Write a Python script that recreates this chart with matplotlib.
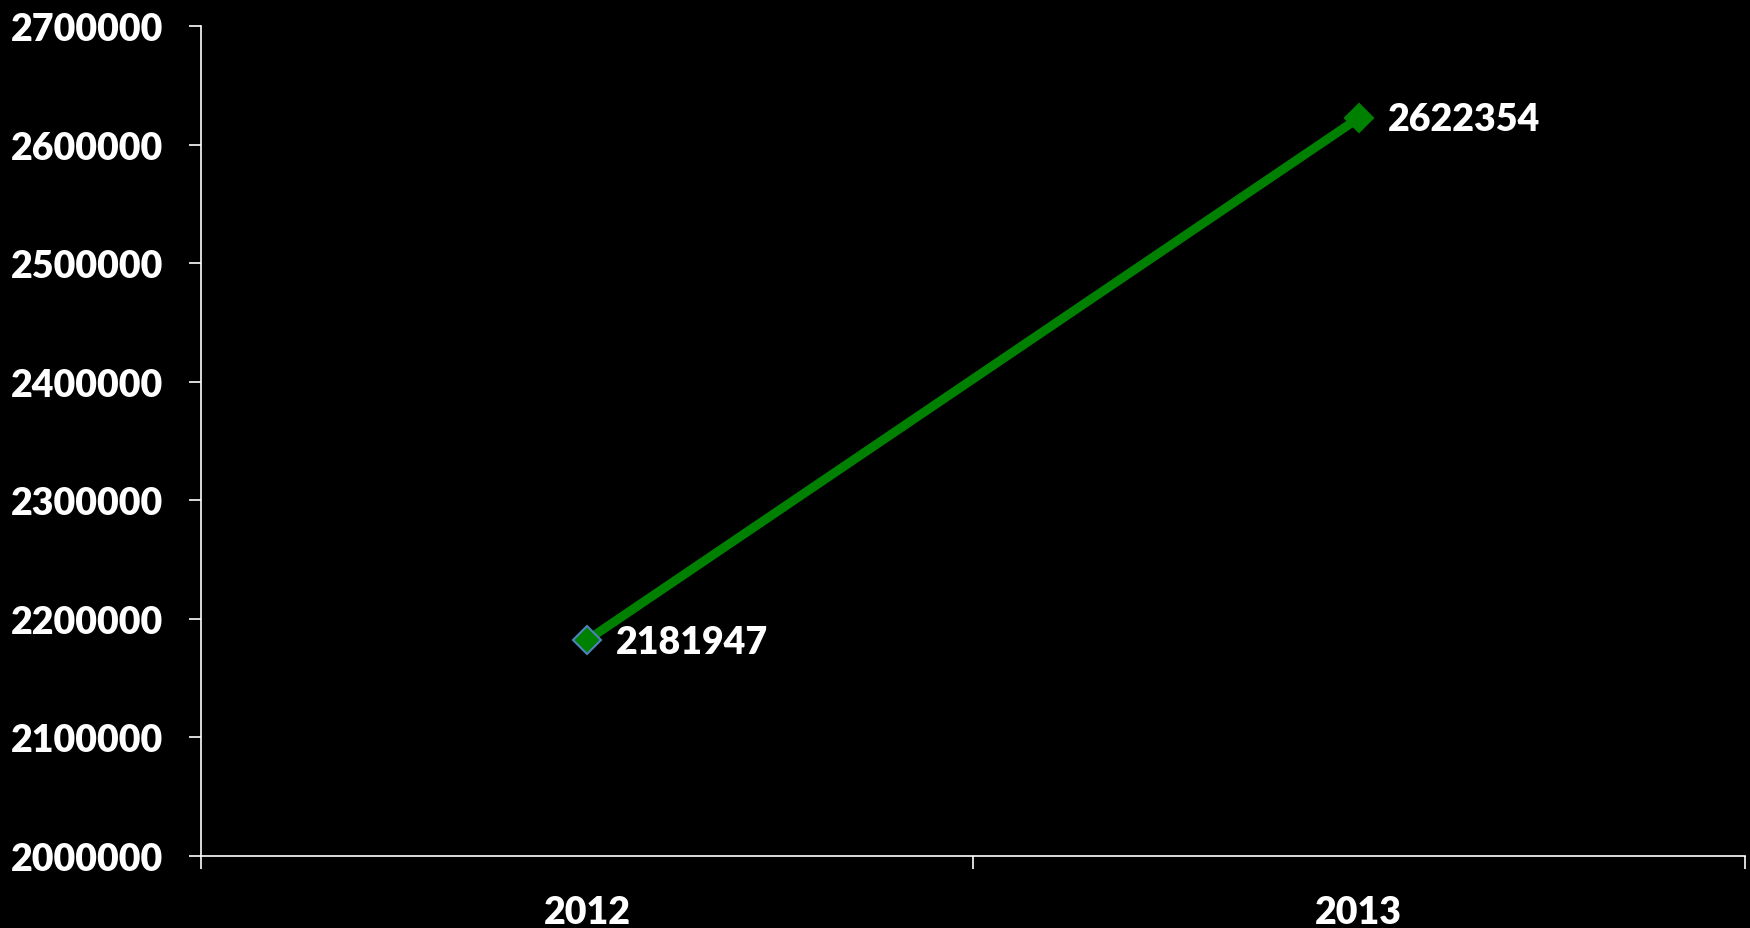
import matplotlib.pyplot as plt
import numpy as np

years = ["2012", "2013"]
values = [2181947, 2622354]
yticks = [2000000, 2100000, 2200000, 2300000, 2400000, 2500000, 2600000, 2700000]

plt.rcParams['font.family'] = ['Lato', 'DejaVu Sans']
plt.rcParams['font.weight'] = 'heavy'

fig = plt.figure(figsize=(17.5, 9.29), dpi=100, facecolor='black')
ax = fig.add_axes([0.1149, 0.0775, 0.882, 0.8935])
ax.set_facecolor('black')

x = np.arange(len(years)) + 0.5
ax.plot(x, values, color='#008000', lw=6.5, solid_capstyle='butt', zorder=2)
ax.plot(x[0], values[0], marker='D', ms=14, mfc='#008000', mec='#4F81BD', mew=1.5, zorder=3)
ax.plot(x[1], values[1], marker='D', ms=14, mfc='#008000', mec='#008000', mew=1.5, zorder=3)

for xi, v in zip(x, values):
    ax.annotate(str(v), (xi, v), xytext=(21, -1), textcoords='offset points',
                color='white', fontsize=27, fontweight='heavy', va='center', ha='left')

ax.set_xlim(0, 2)
ax.set_ylim(2000000, 2700000)
ax.set_yticks(yticks)
ax.set_yticklabels([str(t) for t in yticks])
ax.set_xticks([0, 1, 2])
ax.set_xticklabels([])
ax.set_xticks(x, minor=True)
ax.set_xticklabels(years, minor=True)

ax.tick_params(axis='y', colors='white', labelsize=27, length=9, width=1.2, pad=18)
ax.tick_params(axis='x', which='major', colors='white', length=9, width=1.2)
ax.tick_params(axis='x', which='minor', colors='white', labelsize=27, length=0, pad=28)
for lab in ax.get_yticklabels() + ax.get_xticklabels(minor=True):
    lab.set_fontweight('heavy')

for s in ['top', 'right']:
    ax.spines[s].set_visible(False)
for s in ['left', 'bottom']:
    ax.spines[s].set_color('white')
    ax.spines[s].set_linewidth(1.2)

fig.savefig('out.png', dpi=100, facecolor='black')
